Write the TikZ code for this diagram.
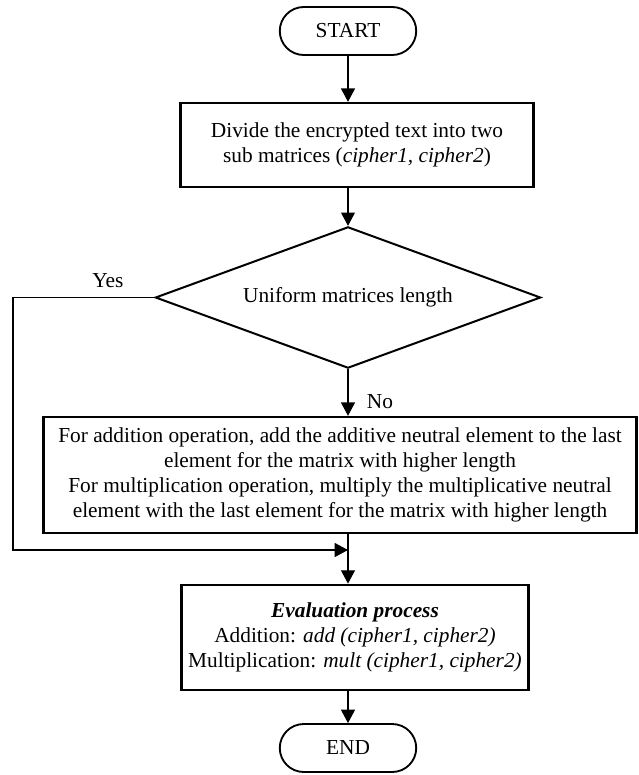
\documentclass[tikz,border=0pt]{standalone}
\usepackage{fontspec}
\setmainfont{Liberation Serif}
\usetikzlibrary{shapes.geometric,shapes.misc,arrows.meta}
\begin{document}
\begin{tikzpicture}[x=0.75pt,y=-0.75pt,
  font=\fontsize{16}{18.8}\selectfont,
  term/.style={draw,line width=1.4pt,rounded rectangle,minimum width=109pt,minimum height=36pt},
  proc/.style={draw,line width=1.8pt,align=center,inner sep=0pt},
  flow/.style={line width=0.8pt,-{Triangle[length=10pt,width=10.5pt]}}]
\useasboundingbox (0,0) rectangle (639,775);
\node [term] (start) at (348,31) {START};
\node [proc,minimum width=265pt,minimum height=63pt] (divide) at (357,145) {Divide the encrypted text into two\\ sub matrices (\textit{cipher1, cipher2})};
\node [draw,line width=1.5pt,diamond,aspect=2.7,inner sep=0pt,minimum width=289pt,minimum height=106pt] (uniform) at (348,297.5) {Uniform matrices length};
\node [proc,minimum width=445pt,minimum height=87pt] (pad) at (340,475) {For addition operation, add the additive neutral element to the last\\ element for the matrix with higher length\\ For multiplication operation, multiply the multiplicative neutral\\ element with the last element for the matrix with higher length};
\node [proc,minimum width=260pt,minimum height=79pt] (eval) at (355,637.5) {\textbf{\textit{Evaluation process}}\\ Addition: \textit{add (cipher1, cipher2)}\\ Multiplication: \textit{mult (cipher1, cipher2)}};
\node [term] (end) at (348,748) {END};
\coordinate (merge) at (348,550);
\coordinate (corner) at (13,297.5);
\draw [flow] (start.south) -- (start.south |- divide.north);
\draw [flow] (divide.south -| uniform.north) -- (uniform.north);
\draw [flow] (uniform.south) -- (uniform.south |- pad.north);
\draw [flow] (pad.south -| merge) -- (eval.north -| merge);
\draw [flow] (uniform.west) -- (corner) |- (merge);
\draw [flow] (eval.south -| end.north) -- (end.north);
\node (yes) at (108,281) {Yes};
\node (no) at (380,402) {No};
\end{tikzpicture}
\end{document}
